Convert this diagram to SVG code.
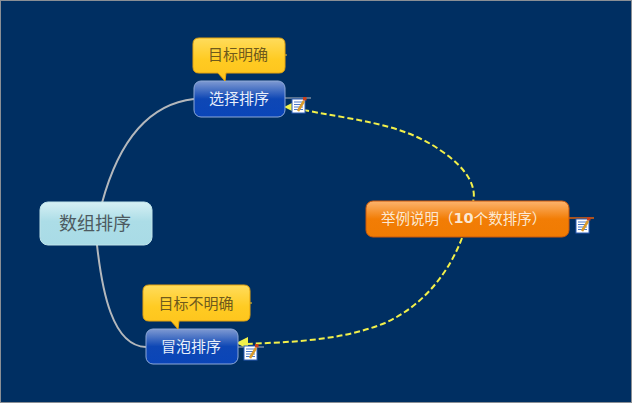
<svg xmlns="http://www.w3.org/2000/svg" width="632" height="403" viewBox="0 0 632 403">
<style>
text{font-family:"Noto Sans CJK SC","Liberation Sans",sans-serif;text-anchor:middle;dominant-baseline:central}
.branch{fill:none;stroke:#b4b8bc;stroke-width:2}
.rel{fill:none;stroke:#f2f04a;stroke-width:2;stroke-dasharray:6 3}
.blue{fill:url(#gBlue);stroke:#8ea9d8;stroke-width:1}
.call{fill:url(#gYellow);stroke:#e6a50e;stroke-width:1}
.bt{font-size:15px;fill:#e8effa}
.yt{font-size:15px;fill:#6f5a1c}
</style>
<defs>
<linearGradient id="gBlue" x1="0" y1="0" x2="0" y2="1"><stop offset="0" stop-color="#7f9ad2"/><stop offset=".5" stop-color="#0e47b5"/><stop offset="1" stop-color="#0a45b8"/></linearGradient>
<linearGradient id="gYellow" x1="0" y1="0" x2="0" y2="1"><stop offset="0" stop-color="#ffdc5c"/><stop offset=".5" stop-color="#ffcb22"/><stop offset="1" stop-color="#fdc31c"/></linearGradient>
<linearGradient id="gOrange" x1="0" y1="0" x2="0" y2="1"><stop offset="0" stop-color="#fcb46e"/><stop offset=".5" stop-color="#f27d05"/><stop offset="1" stop-color="#f07b02"/></linearGradient>
<linearGradient id="gTeal" x1="0" y1="0" x2="0" y2="1"><stop offset="0" stop-color="#d6f0f4"/><stop offset=".45" stop-color="#acdde7"/><stop offset="1" stop-color="#a9dbe6"/></linearGradient>
<g id="note">
<rect x="0" y="0" width="13" height="14" fill="#fff" stroke="#2c5fb8" stroke-width="1"/>
<path d="M2 3h9M2 5.500h9M2 8h9M2 10.500h9" stroke="#4a78c8" stroke-width="1"/>
<path d="M6 12L12 2" stroke="#d99a2a" stroke-width="2.500"/>
<rect x="11" y="-2" width="3.500" height="3.500" fill="#c8401c"/>
</g>
</defs>
<rect x="0.500" y="0.500" width="631" height="402" fill="#002f62" stroke="#8a8f95" stroke-width="1"/>
<g id="connectors">
<path class="branch" d="M102 203C115 155 140 105 194 99"/>
<path class="branch" d="M97 245C102 290 112 346 146 347"/>
<path d="M285 98H311" fill="none" stroke="#b4b8bc" stroke-width="1"/>
<path d="M285 55H287" fill="none" stroke="#ffcb22" stroke-width="1"/>
<path d="M250 303H252" fill="none" stroke="#ffcb22" stroke-width="1"/>
<path d="M238 347H264" fill="none" stroke="#b4b8bc" stroke-width="1"/>
<path d="M569 218H594" fill="none" stroke="#e0600a" stroke-width="1.500"/>
<path class="rel" d="M294 108C350 120 400 122 440 150C470 170 478 190 472 205"/>
<path class="rel" d="M462 238C450 270 425 305 385 323C340 341 290 342 245 344"/>
<path d="M284 107L296 101V113Z" fill="#f2f04a"/>
<path d="M236 343L248 337V349Z" fill="#f2f04a"/>
</g>
<g id="node-root">
<rect x="40" y="202" width="112" height="43" rx="8" fill="url(#gTeal)" stroke="#bfe4ea"/>
<text x="95" y="221.500" font-size="18" fill="#4d5a60">数组排序</text>
</g>
<g id="node-select">
<rect class="blue" x="194" y="81" width="91" height="36" rx="7"/>
<text class="bt" x="239" y="97.500">选择排序</text>
<use href="#note" x="292" y="99"/>
</g>
<g id="note-select">
<path class="call" d="M199 38H279Q285 38 285 44V67Q285 73 279 73H226L225 81L218 73H199Q193 73 193 67V44Q193 38 199 38Z"/>
<text class="yt" x="238" y="53.500">目标明确</text>
</g>
<g id="node-bubble">
<rect class="blue" x="146" y="329" width="92" height="35" rx="7"/>
<text class="bt" x="191" y="345">冒泡排序</text>
<use href="#note" x="244" y="346"/>
</g>
<g id="note-bubble">
<path class="call" d="M149 285H244Q250 285 250 291V315Q250 321 244 321H179L178 329L171 321H149Q143 321 143 315V291Q143 285 149 285Z"/>
<text class="yt" x="196" y="302">目标不明确</text>
</g>
<g id="node-example">
<rect x="366" y="201" width="203" height="36" rx="7" fill="url(#gOrange)" stroke="#c9590a"/>
<text x="381" y="217.500" font-size="14.500" style="text-anchor:start" fill="#fbe8d2">举例说明（<tspan font-weight="700" font-family="'DejaVu Sans',sans-serif">10</tspan>个数排序）</text>
<use href="#note" x="576" y="219"/>
</g>
</svg>
